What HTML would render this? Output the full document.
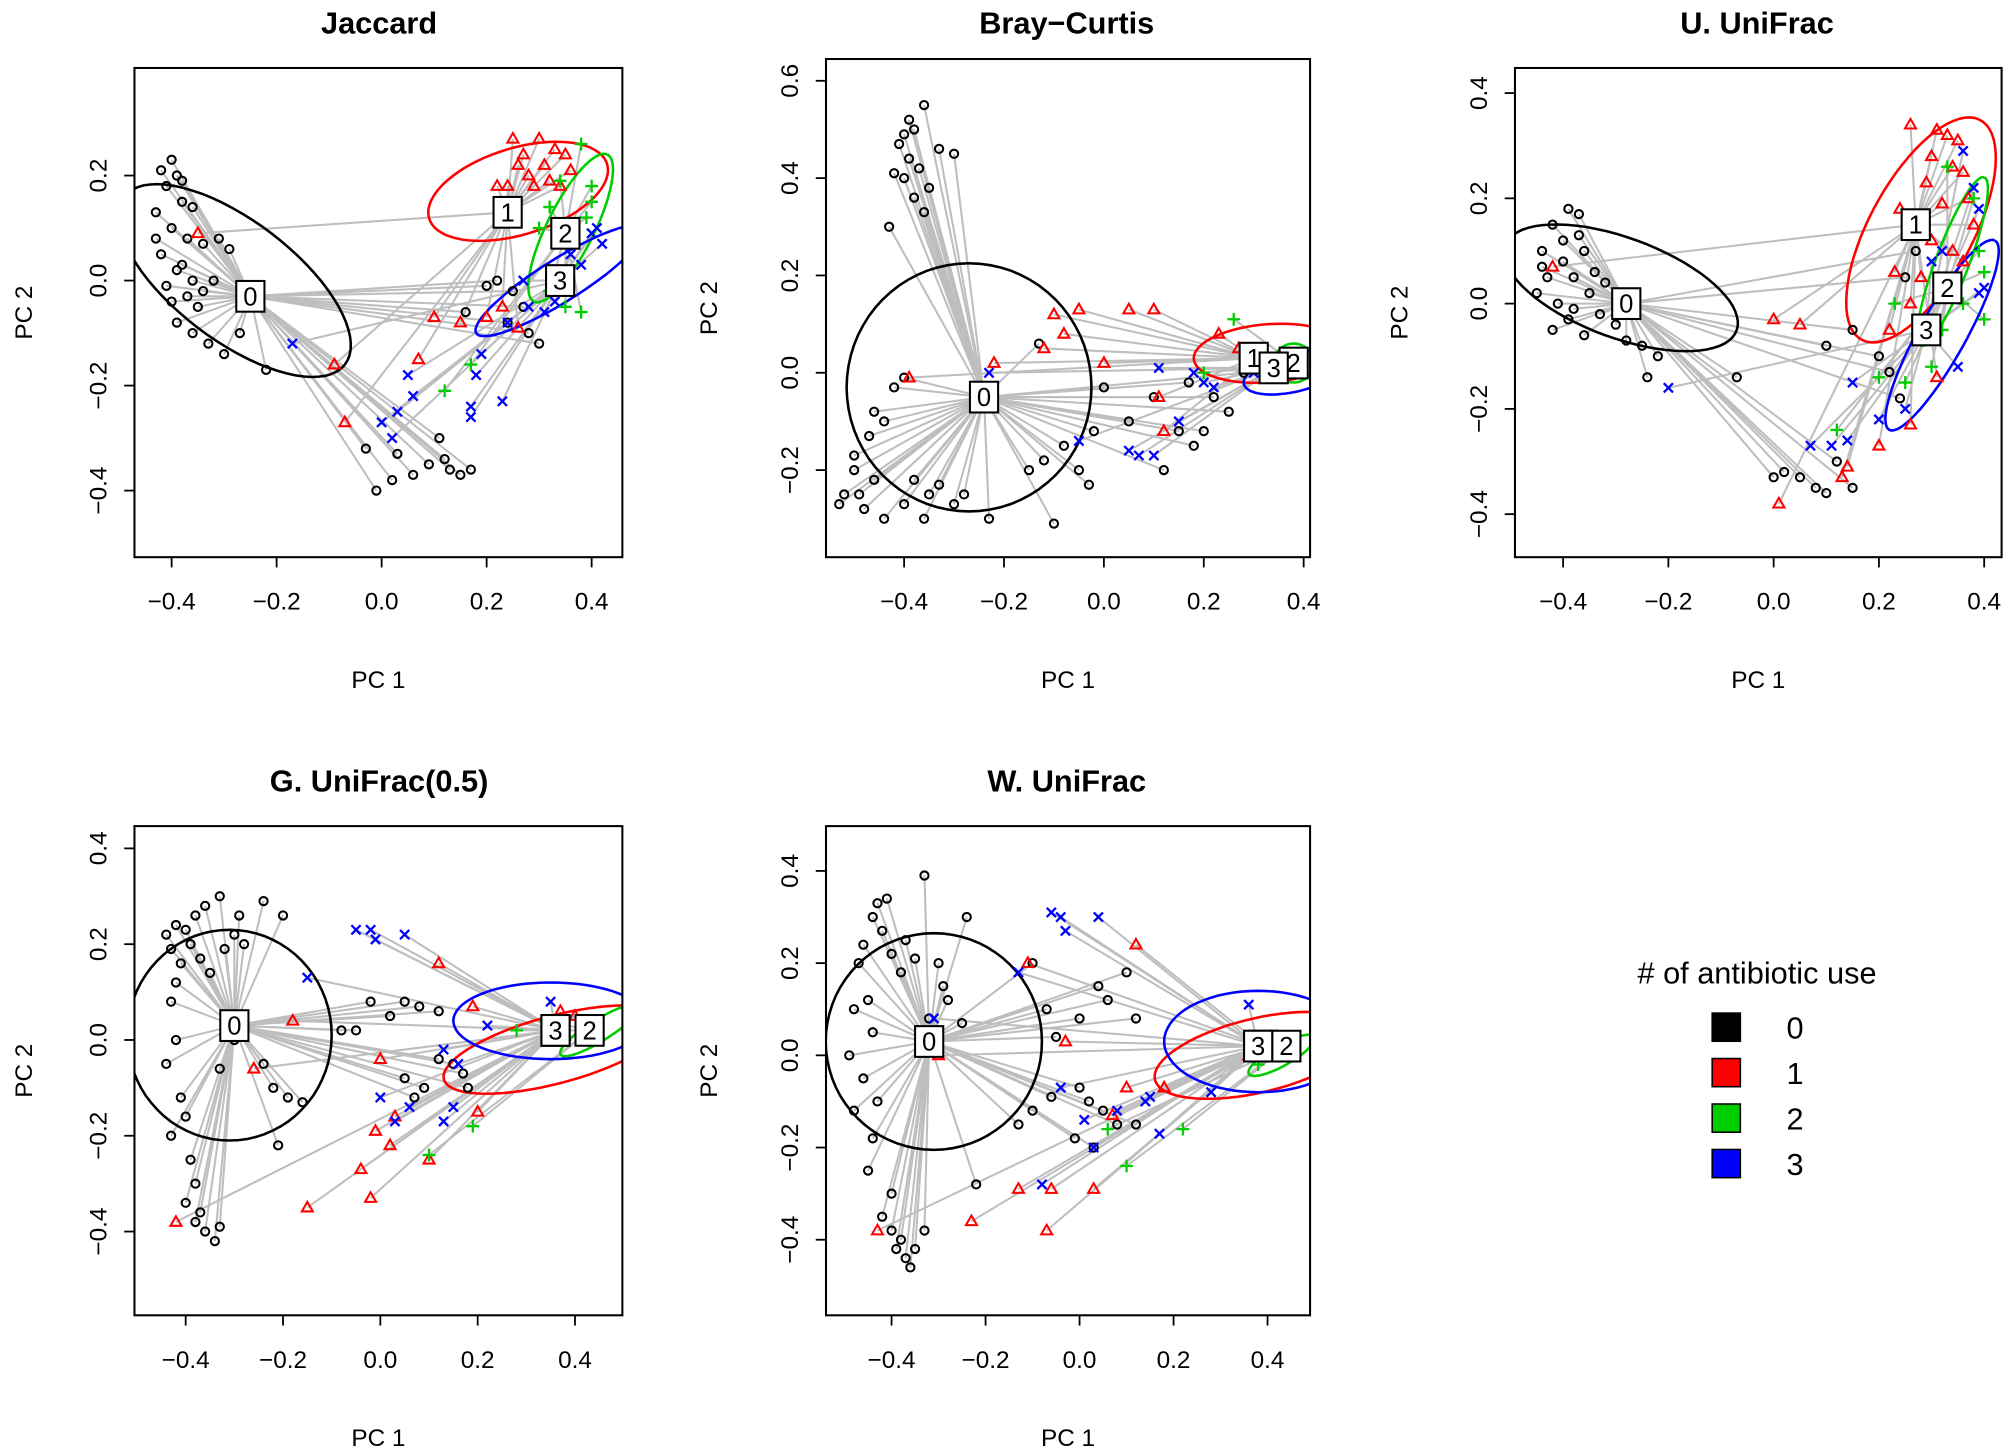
<!DOCTYPE html>
<html><head><meta charset="utf-8"><style>
html,body{margin:0;padding:0;background:#fff;}
svg{display:block;font-family:"Liberation Sans",sans-serif;}
</style></head><body>
<svg id="chart" width="2008" height="1455" viewBox="0 0 1568 1136" xmlns="http://www.w3.org/2000/svg"></svg>
<script>
// ---------- Data: Jaccard ----------
const jac_x=[-0.42,-0.40,-0.39,-0.41,-0.43,-0.38,-0.36,-0.40,-0.42,-0.39,-0.41,-0.38,-0.37,-0.35,-0.39,-0.36,-0.33,-0.34,-0.31,-0.30,-0.27,-0.22,-0.38,-0.43,-0.36,-0.40,-0.32,-0.34,-0.37,-0.29,
0.02,0.06,0.03,0.09,0.12,0.15,-0.01,0.11,-0.03,0.17,0.13,0.20,0.22,0.25,0.27,0.24,0.28,0.30,0.16,
0.25,0.30,0.33,0.27,0.31,0.35,0.28,0.24,0.32,0.36,0.26,0.29,0.34,0.22,0.07,-0.07,-0.09,-0.35,0.15,0.20,0.23,0.26,0.10,
0.38,0.34,0.40,0.39,0.32,0.30,0.35,0.12,0.17,0.32,0.38,0.40,
0.00,0.03,0.06,0.02,-0.17,0.05,0.17,0.17,0.23,0.18,0.19,0.33,0.36,0.40,0.42,0.38,0.31,0.28,0.24,0.27,0.41];
const jac_y=[0.21,0.23,0.20,0.18,0.13,0.15,0.14,0.10,0.05,0.02,-0.01,0.03,-0.03,-0.05,-0.08,-0.10,-0.12,0.07,0.08,-0.14,-0.10,-0.17,0.19,0.08,0.00,-0.04,0.00,-0.02,0.08,0.06,
-0.38,-0.37,-0.33,-0.35,-0.34,-0.37,-0.40,-0.30,-0.32,-0.36,-0.36,-0.01,0.00,-0.02,-0.05,-0.08,-0.10,-0.12,-0.06,
0.27,0.27,0.25,0.24,0.22,0.24,0.20,0.18,0.19,0.21,0.22,0.18,0.18,0.18,-0.15,-0.27,-0.16,0.09,-0.08,-0.07,-0.05,-0.09,-0.07,
0.26,0.19,0.15,0.12,0.14,0.10,-0.05,-0.21,-0.16,-0.02,-0.06,0.18,
-0.27,-0.25,-0.22,-0.30,-0.12,-0.18,-0.26,-0.24,-0.23,-0.18,-0.14,-0.04,0.05,0.09,0.07,0.03,-0.06,-0.05,-0.08,0.00,0.10];
const jac_g=[0,0,0,0,0,0,0,0,0,0,0,0,0,0,0,0,0,0,0,0,0,0,0,0,0,0,0,0,0,0,0,0,0,0,0,0,0,0,0,0,0,0,0,0,0,0,0,0,0,
1,1,1,1,1,1,1,1,1,1,1,1,1,1,1,1,1,1,1,1,1,1,1,2,2,2,2,2,2,2,2,2,2,2,2,
3,3,3,3,3,3,3,3,3,3,3,3,3,3,3,3,3,3,3,3,3];
const jac_cx=[-0.25,0.24,0.35,0.34];
const jac_cy=[-0.03,0.13,0.09,0.00];
const jac_ell=[[-0.28,0.00,0.21,-0.16,0.07,0.09],[0.26,0.17,0.17,0.05,-0.02,0.08],[0.36,0.10,0.07,0.14,0.04,-0.02],[0.34,0.00,0.16,0.10,0.02,-0.035]];

// ---------- Data: Bray-Curtis ----------
const bc_x=[-0.40,-0.38,-0.36,-0.41,-0.39,-0.37,-0.40,-0.35,-0.38,-0.42,-0.33,-0.30,-0.36,-0.43,-0.39,
-0.50,-0.52,-0.48,-0.53,-0.46,-0.44,-0.47,-0.44,-0.46,-0.40,-0.38,-0.35,-0.33,-0.30,-0.28,-0.42,-0.40,-0.50,-0.49,-0.36,
-0.23,-0.10,-0.13,-0.08,-0.05,-0.03,-0.12,0.05,0.10,0.15,0.18,0.20,0.25,0.22,0.17,0.12,0.28,-0.02,0.00,-0.15,
-0.10,-0.05,0.05,0.10,-0.08,0.00,-0.12,0.11,0.23,0.27,0.12,-0.39,-0.22,
0.26,0.20,0.30,0.35,
-0.23,0.11,0.18,0.20,0.05,0.07,0.10,0.15,0.22,-0.05,0.30,0.35];
const bc_y=[0.49,0.50,0.55,0.47,0.44,0.42,0.40,0.38,0.36,0.41,0.46,0.45,0.33,0.30,0.52,
-0.20,-0.25,-0.28,-0.27,-0.22,-0.30,-0.13,-0.10,-0.08,-0.27,-0.22,-0.25,-0.23,-0.27,-0.25,-0.03,-0.01,-0.17,-0.25,-0.30,
-0.30,-0.31,0.06,-0.15,-0.20,-0.23,-0.18,-0.10,-0.05,-0.12,-0.15,-0.12,-0.08,-0.05,-0.02,-0.20,0.00,-0.12,-0.03,-0.20,
0.12,0.13,0.13,0.13,0.08,0.02,0.05,-0.05,0.08,0.05,-0.12,-0.01,0.02,
0.11,0.00,0.03,0.02,
0.00,0.01,0.00,-0.02,-0.16,-0.17,-0.17,-0.10,-0.03,-0.14,0.00,-0.01];
const bc_g=[0,0,0,0,0,0,0,0,0,0,0,0,0,0,0,0,0,0,0,0,0,0,0,0,0,0,0,0,0,0,0,0,0,0,0,0,0,0,0,0,0,0,0,0,0,0,0,0,0,0,0,0,0,0,0,
1,1,1,1,1,1,1,1,1,1,1,1,1,2,2,2,2,3,3,3,3,3,3,3,3,3,3,3,3];
const bc_cx=[-0.24,0.30,0.38,0.34];
const bc_cy=[-0.05,0.03,0.02,0.01];
const bc_ell=[[-0.27,-0.03,0.245,0,0,0.255],[0.33,0.04,0.15,0.01,0,0.06],[0.38,0.02,0.04,0,0,0.04],[0.38,0.00,0.10,0.02,0,0.04]];

// ---------- Data: U. UniFrac ----------
const uu_x=[-0.42,-0.39,-0.37,-0.40,-0.44,-0.36,-0.43,-0.38,-0.41,-0.45,-0.35,-0.39,-0.33,-0.42,-0.36,-0.30,-0.28,-0.25,-0.22,-0.24,-0.37,-0.40,-0.34,-0.44,-0.38,-0.32,
0.00,0.02,0.05,0.08,0.10,0.12,0.15,-0.07,0.10,0.15,0.20,0.22,0.24,0.25,0.27,
0.26,0.31,0.33,0.35,0.30,0.34,0.29,0.36,0.37,0.32,0.38,0.24,0.30,0.34,0.36,0.28,0.26,0.22,0.05,0.00,-0.42,0.01,0.13,0.14,0.20,0.26,0.31,0.23,
0.33,0.38,0.39,0.40,0.36,0.32,0.30,0.25,0.20,0.23,0.12,0.40,
0.36,0.38,0.39,0.40,0.39,0.32,0.30,0.28,0.25,0.20,0.15,0.11,0.07,0.14,-0.20,0.35];
const uu_y=[0.15,0.18,0.17,0.12,0.10,0.10,0.05,0.05,0.00,0.02,0.02,-0.03,-0.02,-0.05,-0.06,-0.04,-0.07,-0.08,-0.10,-0.14,0.13,0.08,0.06,0.07,-0.01,0.04,
-0.33,-0.32,-0.33,-0.35,-0.36,-0.30,-0.35,-0.14,-0.08,-0.05,-0.10,-0.13,-0.18,0.05,0.10,
0.34,0.33,0.32,0.31,0.28,0.26,0.23,0.25,0.20,0.19,0.15,0.18,0.12,0.10,0.08,0.05,0.00,-0.05,-0.04,-0.03,0.07,-0.38,-0.33,-0.31,-0.27,-0.23,-0.14,0.06,
0.26,0.20,0.10,0.06,0.00,-0.05,-0.12,-0.15,-0.14,0.00,-0.24,-0.03,
0.29,0.22,0.18,0.03,0.02,0.10,0.08,-0.05,-0.20,-0.22,-0.15,-0.27,-0.27,-0.26,-0.16,-0.12];
const uu_g=[0,0,0,0,0,0,0,0,0,0,0,0,0,0,0,0,0,0,0,0,0,0,0,0,0,0,0,0,0,0,0,0,0,0,0,0,0,0,0,0,0,
1,1,1,1,1,1,1,1,1,1,1,1,1,1,1,1,1,1,1,1,1,1,1,1,1,1,1,1,
2,2,2,2,2,2,2,2,2,2,2,2,3,3,3,3,3,3,3,3,3,3,3,3,3,3,3,3];
const uu_cx=[-0.28,0.27,0.33,0.29];
const uu_cy=[0.00,0.15,0.03,-0.05];
const uu_ell=[[-0.29,0.03,0.22,-0.08,0.03,0.09],[0.28,0.14,0.11,0.21,0.09,-0.04],[0.34,0.08,0.06,0.16,0.03,-0.01],[0.32,-0.06,0.10,0.18,0.04,-0.02]];

// ---------- Data: G. UniFrac(0.5) ----------
const gu_x=[-0.44,-0.42,-0.40,-0.43,-0.38,-0.36,-0.33,-0.39,-0.41,-0.37,-0.35,-0.42,-0.32,-0.30,-0.29,-0.28,-0.24,-0.20,-0.43,-0.42,-0.44,-0.41,-0.43,-0.40,-0.39,-0.38,-0.40,-0.38,-0.36,-0.34,-0.33,-0.37,-0.24,-0.22,-0.19,-0.16,-0.21,-0.08,-0.05,-0.02,0.02,0.05,0.08,0.12,0.05,0.09,0.07,0.15,0.17,0.18,0.12,-0.30,-0.33,
-0.42,-0.15,-0.02,-0.04,0.02,0.03,0.10,-0.01,-0.18,-0.26,0.12,0.19,0.20,0.37,0.40,0.00,
0.10,0.19,0.28,0.34,0.42,0.38,
-0.05,-0.02,-0.01,0.05,-0.15,0.00,0.03,0.06,0.13,0.15,0.16,0.13,0.35,0.38,0.22];
const gu_y=[0.22,0.24,0.23,0.19,0.26,0.28,0.30,0.20,0.16,0.17,0.14,0.12,0.19,0.22,0.26,0.20,0.29,0.26,0.08,0.00,-0.05,-0.12,-0.20,-0.16,-0.25,-0.30,-0.34,-0.38,-0.40,-0.42,-0.39,-0.36,-0.05,-0.10,-0.12,-0.13,-0.22,0.02,0.02,0.08,0.05,0.08,0.07,0.06,-0.08,-0.10,-0.12,-0.05,-0.07,-0.10,-0.04,0.00,-0.06,
-0.38,-0.35,-0.33,-0.27,-0.22,-0.16,-0.25,-0.19,0.04,-0.06,0.16,0.07,-0.15,0.06,0.05,-0.04,
-0.24,-0.18,0.02,0.04,0.03,0.00,
0.23,0.23,0.21,0.22,0.13,-0.12,-0.17,-0.14,-0.17,-0.14,-0.05,-0.02,0.08,0.03,0.03];
const gu_g=[0,0,0,0,0,0,0,0,0,0,0,0,0,0,0,0,0,0,0,0,0,0,0,0,0,0,0,0,0,0,0,0,0,0,0,0,0,0,0,0,0,0,0,0,0,0,0,0,0,0,0,0,0,
1,1,1,1,1,1,1,1,1,1,1,1,1,1,1,1,2,2,2,2,2,2,3,3,3,3,3,3,3,3,3,3,3,3,3,3,3];
const gu_cx=[-0.30,0.36,0.43,0.36];
const gu_cy=[0.03,0.02,0.02,0.02];
const gu_ell=[[-0.31,0.01,0.21,0,0,0.22],[0.36,-0.02,0.23,0.06,-0.01,0.07],[0.45,0.02,0.08,0.05,0.01,-0.02],[0.35,0.04,0.20,0,0,0.08]];

// ---------- Data: W. UniFrac ----------
const wu_x=[-0.43,-0.41,-0.44,-0.42,-0.46,-0.47,-0.40,-0.37,-0.33,-0.35,-0.38,-0.45,-0.48,-0.44,-0.49,-0.46,-0.48,-0.43,-0.44,-0.45,-0.40,-0.42,-0.40,-0.39,-0.37,-0.36,-0.38,-0.33,-0.35,-0.30,-0.29,-0.28,-0.32,-0.25,-0.24,-0.22,-0.13,-0.10,-0.06,-0.10,-0.07,-0.05,0.00,0.04,0.06,0.10,0.12,0.00,0.02,0.05,0.03,0.12,-0.01,0.08,
-0.43,-0.23,-0.13,-0.07,-0.06,0.03,-0.11,-0.03,0.10,0.07,0.18,-0.30,0.12,0.36,
0.06,0.10,0.22,0.38,
-0.06,-0.04,-0.03,0.04,-0.13,-0.31,-0.04,0.01,0.08,0.14,0.15,0.17,0.28,0.36,-0.08,0.03];
const wu_y=[0.33,0.34,0.30,0.27,0.24,0.20,0.22,0.25,0.39,0.21,0.18,0.12,0.10,0.05,0.00,-0.05,-0.12,-0.10,-0.18,-0.25,-0.30,-0.35,-0.38,-0.42,-0.44,-0.46,-0.40,-0.38,-0.42,0.20,0.15,0.12,0.08,0.07,0.30,-0.28,-0.15,-0.12,-0.09,0.20,0.10,0.04,0.08,0.15,0.12,0.18,0.08,-0.07,-0.10,-0.12,-0.20,-0.15,-0.18,-0.15,
-0.38,-0.36,-0.29,-0.38,-0.29,-0.29,0.20,0.03,-0.07,-0.13,-0.07,0.00,0.24,0.00,
-0.16,-0.24,-0.16,-0.02,
0.31,0.30,0.27,0.30,0.18,0.08,-0.07,-0.14,-0.12,-0.10,-0.09,-0.17,-0.08,0.11,-0.28,-0.20];
const wu_g=[0,0,0,0,0,0,0,0,0,0,0,0,0,0,0,0,0,0,0,0,0,0,0,0,0,0,0,0,0,0,0,0,0,0,0,0,0,0,0,0,0,0,0,0,0,0,0,0,0,0,0,0,0,0,
1,1,1,1,1,1,1,1,1,1,1,1,1,1,2,2,2,2,3,3,3,3,3,3,3,3,3,3,3,3,3,3,3,3];
const wu_cx=[-0.32,0.39,0.44,0.38];
const wu_cy=[0.03,0.02,0.02,0.02];
const wu_ell=[[-0.31,0.03,0.23,0,0,0.235],[0.38,0.00,0.22,0.05,-0.01,0.08],[0.43,0.00,0.07,0.04,0.01,-0.02],[0.38,0.03,0.20,0,0,0.11]];

const xTicks=[-0.4,-0.2,0.0,0.2,0.4];
const xTickLabels=["\u22120.4","\u22120.2","0.0","0.2","0.4"];
const legendLabels=["0","1","2","3"];

const NS="http://www.w3.org/2000/svg";
const svg=document.getElementById('chart');
const COLS=["#000000","#ff0000","#00cd00","#0000ff"];
function mk(tag,attrs,parent){const e=document.createElementNS(NS,tag);for(const k in attrs)e.setAttribute(k,attrs[k]);(parent||svg).appendChild(e);return e;}
function fmt(v){return (v<0?"\u2212":"")+Math.abs(v).toFixed(1);}

const panels=[
 {id:"jaccard",title:"Jaccard",L:105,T:53,R:486,B:435,x0:298,sx:410,y0:219,sy:410,yt:[-0.4,-0.2,0.0,0.2],px:jac_x,py:jac_y,pg:jac_g,cx:jac_cx,cy:jac_cy,el:jac_ell,tx:296,ty:17,lx:18},
 {id:"bray-curtis",title:"Bray\u2212Curtis",L:645,T:46,R:1023,B:435,x0:862,sx:390,y0:291,sy:380,yt:[-0.2,0.0,0.2,0.4,0.6],px:bc_x,py:bc_y,pg:bc_g,cx:bc_cx,cy:bc_cy,el:bc_ell,tx:833,ty:17,lx:553},
 {id:"u-unifrac",title:"U. UniFrac",L:1183,T:53,R:1563,B:435,x0:1385,sx:411,y0:237,sy:411,yt:[-0.4,-0.2,0.0,0.2,0.4],px:uu_x,py:uu_y,pg:uu_g,cx:uu_cx,cy:uu_cy,el:uu_ell,tx:1372,ty:17,lx:1092},
 {id:"g-unifrac",title:"G. UniFrac(0.5)",L:105,T:645,R:486,B:1027,x0:297,sx:380,y0:812,sy:374,yt:[-0.4,-0.2,0.0,0.2,0.4],px:gu_x,py:gu_y,pg:gu_g,cx:gu_cx,cy:gu_cy,el:gu_ell,tx:296,ty:609,lx:18},
 {id:"w-unifrac",title:"W. UniFrac",L:645,T:645,R:1023,B:1027,x0:843,sx:367,y0:824,sy:360,yt:[-0.4,-0.2,0.0,0.2,0.4],px:wu_x,py:wu_y,pg:wu_g,cx:wu_cx,cy:wu_cy,el:wu_ell,tx:833,ty:609,lx:553}
];

panels.forEach((p,pi)=>{
  const X=v=>p.x0+v*p.sx, Y=v=>p.y0-v*p.sy;
  const g=mk('g',{});
  
  
  const cp=mk('clipPath',{id:'clip'+pi},g);
  mk('rect',{x:p.L,y:p.T,width:p.R-p.L,height:p.B-p.T},cp);
  const inner=mk('g',{'clip-path':'url(#clip'+pi+')'},g);
  const lines=mk('g',{stroke:'#bebebe','stroke-width':1.6},inner);
  
  
  p.px.forEach((v,i)=>{const k=p.pg[i];mk('line',{x1:X(v),y1:Y(p.py[i]),x2:X(p.cx[k]),y2:Y(p.cy[k])},lines);});
  p.el.forEach((e,k)=>{let d='';for(let t=0;t<=72;t++){const a=t/72*2*Math.PI;const xx=e[0]+Math.cos(a)*e[2]+Math.sin(a)*e[4];const yy=e[1]+Math.cos(a)*e[3]+Math.sin(a)*e[5];d+=(t?'L':'M')+X(xx).toFixed(1)+','+Y(yy).toFixed(1);}
    const el=mk('path',{d:d,fill:'none',stroke:COLS[k],'stroke-width':2},inner);
    
    });
  p.px.forEach((v,i)=>{const k=p.pg[i],x=X(v),y=Y(p.py[i]);let m;
    if(k===0)m=mk('circle',{cx:x,cy:y,r:3.2,fill:'none',stroke:'#000','stroke-width':1.6},inner);
    else if(k===1)m=mk('polygon',{points:`${x},${y-4.5} ${x+4.3},${y+3} ${x-4.3},${y+3}`,fill:'none',stroke:'#f00','stroke-width':1.6},inner);
    else if(k===2)m=mk('path',{d:`M${x-5},${y}H${x+5}M${x},${y-5}V${y+5}`,stroke:'#00cd00','stroke-width':1.8},inner);
    else m=mk('path',{d:`M${x-3.6},${y-3.6}L${x+3.6},${y+3.6}M${x-3.6},${y+3.6}L${x+3.6},${y-3.6}`,stroke:'#00f','stroke-width':1.8},inner);
    
    });
  p.cx.forEach((v,k)=>{const x=X(v),y=Y(p.cy[k]);
    const lg=mk('g',{},inner);
    
    
    mk('rect',{x:x-11,y:y-12,width:22,height:24,fill:'#fff',stroke:'#000','stroke-width':1.6},lg);
    const t=mk('text',{x:x,y:y+7,'text-anchor':'middle','font-size':20},lg);t.textContent=String(k);});
  const fr=mk('rect',{x:p.L,y:p.T,width:p.R-p.L,height:p.B-p.T,fill:'none',stroke:'#000','stroke-width':1.6},g);
  
  
  xTicks.forEach((v,i)=>{const x=X(v);mk('line',{x1:x,y1:p.B,x2:x,y2:p.B+8,stroke:'#000','stroke-width':1.4},g);
    const t=mk('text',{x:x,y:p.B+41,'text-anchor':'middle','font-size':19},g);t.textContent=xTickLabels[i];
    
    });
  p.yt.forEach(v=>{const y=Y(v);mk('line',{x1:p.L-8,y1:y,x2:p.L,y2:y,stroke:'#000','stroke-width':1.4},g);
    const tx=p.L-22;const t=mk('text',{x:tx,y:y,'text-anchor':'middle','font-size':19,transform:`rotate(-90 ${tx} ${y})`},g);t.textContent=fmt(v);
    
    });
  const ti=mk('text',{x:p.tx,y:p.ty+9,'text-anchor':'middle','font-size':24,'font-weight':'bold'},g);ti.textContent=p.title;
  
  
  const xl=mk('text',{x:(p.L+p.R)/2,y:p.B+102,'text-anchor':'middle','font-size':19},g);xl.textContent='PC 1';
  
  
  const ym=(p.T+p.B)/2, yx=p.lx+7;
  const yl=mk('text',{x:yx,y:ym,'text-anchor':'middle','font-size':19,transform:`rotate(-90 ${yx} ${ym})`},g);yl.textContent='PC 2';
  
  
});

const lgd=mk('g',{});


const lt=mk('text',{x:1372,y:768,'text-anchor':'middle','font-size':24},lgd);lt.textContent='# of antibiotic use';
legendLabels.forEach((s,k)=>{const y=802+k*35.5;
  const e=mk('g',{},lgd);
  
  
  mk('rect',{x:1337,y:y-11,width:22,height:22,fill:COLS[k],stroke:'#000','stroke-width':1.2},e);
  const t=mk('text',{x:1395,y:y+9,'text-anchor':'start','font-size':24},e);t.textContent=s;});
</script>
</body></html>
